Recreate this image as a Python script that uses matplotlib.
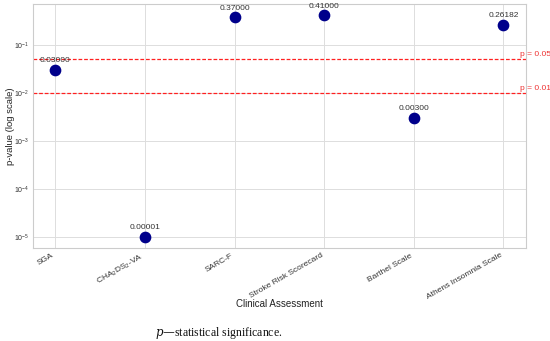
import matplotlib
matplotlib.use("Agg")
import matplotlib.pyplot as plt
import seaborn as sns

# data
assessments = ["SGA", "CHA$_2$DS$_2$-VA", "SARC-F", "Stroke Risk Scorecard",
               "Barthel Scale", "Athens Insomnia Scale"]
p_values = [0.03, 0.00001, 0.37, 0.41, 0.003, 0.26182]
thresholds = [0.05, 0.01]

sns.set_style("whitegrid")
plt.rcParams['font.family'] = ['Liberation Sans', 'DejaVu Sans']
plt.rcParams['mathtext.fontset'] = 'custom'
plt.rcParams['mathtext.rm'] = 'Liberation Sans'
plt.rcParams['mathtext.it'] = 'Liberation Sans:italic'
plt.rcParams['mathtext.bf'] = 'Liberation Sans:bold'

fig = plt.figure(figsize=(5.5, 3.41), dpi=100)
ax = fig.add_axes([0.06, 0.273, 0.896, 0.715])

x = list(range(len(assessments)))
ax.scatter(x, p_values, s=55, color="#00008b", zorder=3)
ax.set_yscale("log")

for xi, p in zip(x, p_values):
    ax.annotate(f"{p:.5f}", (xi, p), xytext=(0, 4), textcoords="offset points",
                ha="center", va="bottom", fontsize=6, color="#333333")

for t in thresholds:
    ax.axhline(t, color="#ff2020", linestyle=(0, (3, 1.5)), linewidth=0.9, zorder=2)
    ax.text(5.18, t * 1.04, f"p = {t}", color="#ee3333", fontsize=6,
            ha="left", va="bottom")

ax.set_xticks(x)
ax.set_xticklabels(assessments, rotation=30, ha="right", fontsize=6, color="#333333")
ax.tick_params(axis="x", length=0, pad=3)
ax.tick_params(axis="y", length=0, labelsize=5, labelcolor="#333333", pad=3)
ax.minorticks_off()
ax.set_xlabel("Clinical Assessment", fontsize=7, color="#222222")
ax.xaxis.set_label_coords(0.5, -0.21)
ax.set_ylabel("p-value (log scale)", fontsize=6.8, color="#222222")
ax.yaxis.set_label_coords(-0.037, 0.5)
ax.grid(color="#dddddd", linewidth=0.7)
for s in ax.spines.values():
    s.set_color("#cccccc")
    s.set_linewidth(0.8)

fig.text(0.282, 0.023, r"$p$" + "\u2014statistical significance.",
         family=["Liberation Serif", "DejaVu Serif"], fontsize=8.5,
         math_fontfamily="dejavuserif",
         ha="left", va="center", color="#111111")

fig.savefig("out.png", dpi=100)
